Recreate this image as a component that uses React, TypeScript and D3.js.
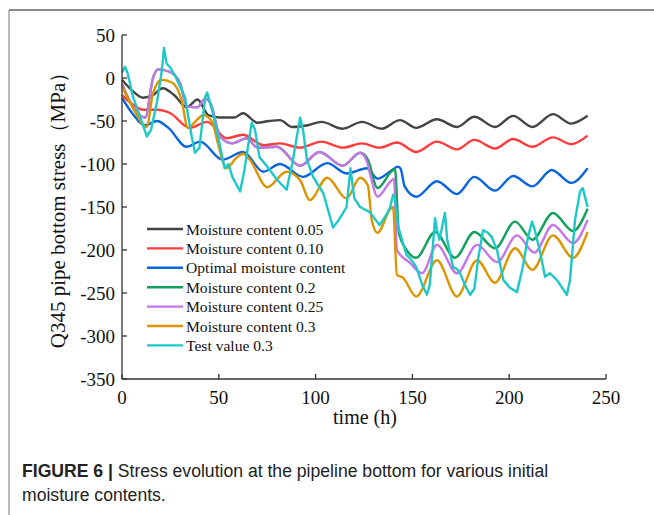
import React from "react";
import * as d3 from "d3";

const xTicks = [0, 50, 100, 150, 200, 250];
const yTicks = [50, 0, -50, -100, -150, -200, -250, -300, -350];

const seriesNames = [
  "Moisture content 0.05",
  "Moisture content 0.10",
  "Optimal moisture content",
  "Moisture content 0.2",
  "Moisture content 0.25",
  "Moisture content 0.3",
  "Test value 0.3",
];
const seriesColors = ["#444444", "#ff3b3b", "#0a64dc", "#12a05a", "#c676e8", "#dc9500", "#1ec8c8"];

const t005 = [0, 5, 11, 16, 21, 27, 33.5, 39, 44.5, 50.5, 58, 62.5, 70, 76, 81.6, 88, 96, 103, 114, 124, 134, 143.6, 152, 162.7, 173, 182, 192.7, 202, 212, 222.6, 232, 240.5];
const v005 = [-2, -14, -23, -20, -12, -20, -34, -25, -43, -46, -46, -41, -52, -50, -49, -57, -55, -51, -59, -51, -59, -49, -58, -48, -57, -45, -57, -44, -57, -42, -53, -44];

const t010 = [0, 5, 11, 18, 25, 35, 44, 54, 62.5, 73, 81.6, 92, 103, 114, 124, 133, 142, 152, 162.7, 173, 182, 192.7, 202, 212, 222.6, 232, 240.5];
const v010 = [-20, -30, -37, -37, -41, -58, -51, -70, -66, -78, -76, -81, -74, -81, -76, -81, -75, -86, -74, -83, -72, -82, -71, -80, -69, -77, -67];

const tOpt = [0, 5, 12, 18, 24, 33.4, 40.3, 52, 62.5, 73, 81.6, 93.5, 106, 116, 126.5, 132, 139.5, 142.6, 144, 146, 152, 162.7, 173, 182, 192.7, 202, 212, 222, 232, 240.5];
const vOpt = [-23, -40, -55, -50, -58, -80, -74, -95, -86, -109, -100, -115, -99, -111, -105, -117, -107, -103, -106, -126, -138, -120, -135, -115, -131, -114, -126, -107, -122, -105];

const t02 = [0, 5.7, 12, 16, 18.7, 24.8, 30, 33.5, 39, 43, 46, 50.6, 57, 64.5, 70, 80, 92, 102, 114, 123, 127, 132, 139.5, 141, 143, 147, 152, 161.7, 172, 182, 192.7, 203, 212, 222.6, 233, 240.5];
const v02 = [-7, -34, -46, 0, 10, 7, -6, -33, -34, -24, -31, -68, -76, -70, -81, -80, -102, -86, -102, -87, -95, -128, -108, -106, -180, -200, -209, -179, -209, -179, -198, -167, -188, -157, -178, -152];

const t025 = [0, 5.7, 12, 16, 18.7, 24.8, 30, 33.5, 39, 43, 46, 50.6, 57, 64.5, 70, 80, 92, 102, 114, 123, 126.5, 128, 132, 138.4, 140.5, 142, 148.8, 155, 162.7, 173, 183.4, 193.7, 204, 213, 222.6, 233, 240.5];
const v025 = [-7, -34, -46, 0, 10, 7, -6, -33, -34, -24, -31, -68, -76, -70, -81, -80, -102, -86, -102, -87, -97, -110, -138, -121, -117, -200, -215, -227, -194, -227, -194, -214, -183, -203, -171, -192, -165];

const t03 = [0, 5.7, 12.7, 16, 20.5, 26.4, 30.8, 34, 38.6, 42, 46.3, 50, 52.5, 54, 59, 62.5, 66, 75, 85, 92, 97, 106, 116, 123, 127, 129, 132, 138.4, 140, 142, 145, 152, 162.7, 173, 183.4, 192.7, 203, 212, 222.6, 233, 240.5];
const v03 = [-10, -35, -57, -18, -2, -6, -26, -58, -49, -43, -50, -80, -100, -105, -93, -88, -95, -127, -109, -119, -142, -116, -140, -116, -125, -165, -180, -153, -150, -229, -232, -254, -212, -254, -212, -238, -198, -223, -183, -209, -179];

const tTest = [0, 1.5, 3, 5.7, 9.3, 12.9, 15, 18, 20.6, 21.7, 23, 25, 28, 30, 32.5, 36, 37.7, 40, 43, 44, 46.5, 49.6, 53, 55, 57, 61, 63, 67, 68.7, 71, 75, 80, 85, 88, 92, 93.5, 95.5, 98.7, 104, 109, 112, 116, 118, 120, 123, 128, 133, 136, 138.4, 140, 141, 142.7, 144.6, 147, 149, 152, 155, 157.5, 159, 161.7, 162.7, 164, 166.8, 168, 171, 173, 174.6, 177, 179.8, 182, 184, 186.5, 189, 191, 193.7, 197, 200.4, 204, 207, 209.7, 211.8, 213, 216, 218.5, 221, 224.7, 229.8, 231.4, 234, 236.6, 238, 240.5];
const vTest = [6, 13, 5, -22, -45, -68, -60, -29, 9, 35, 17, 12, 0, -10, -22, -68, -87, -81, -22, -17, -37, -68, -105, -100, -115, -132, -110, -52, -60, -92, -103, -118, -130, -99, -46, -60, -95, -115, -134, -174, -165, -150, -105, -140, -150, -156, -171, -161, -151, -136, -140, -173, -188, -206, -210, -220, -240, -252, -240, -163, -177, -188, -157, -188, -220, -222, -227, -240, -252, -245, -210, -177, -180, -185, -200, -235, -244, -249, -220, -185, -167, -175, -203, -231, -227, -235, -252, -235, -165, -132, -128, -150];

const seriesT = [t005, t010, tOpt, t02, t025, t03, tTest];
const seriesV = [v005, v010, vOpt, v02, v025, v03, vTest];

const W = 654;
const H = 515;
const X0 = 122;
const X1 = 606;
const Y0 = 379;
const Y1 = 35;

export default function App() {
  const x = d3.scaleLinear().domain([0, 250]).range([X0, X1]);
  const y = d3.scaleLinear().domain([-350, 50]).range([Y0, Y1]);

  const paths = seriesT.map((ts, i) => {
    const pts: [number, number][] = ts.map((t, j) => [t, seriesV[i][j]]);
    const line = d3
      .line<[number, number]>()
      .x((d) => x(d[0]))
      .y((d) => y(d[1]))
      .curve(i === 6 ? d3.curveLinear : d3.curveMonotoneX);
    return line(pts) || "";
  });

  const serif = "'Liberation Serif', 'Times New Roman', serif";
  const legendX = 147;
  const legendY0 = 229;
  const legendDy = 19.4;

  return (
    <svg
      width={W}
      height={H}
      style={{ position: "absolute", left: 0, top: 0, background: "#fff" }}
    >
      <rect x={0} y={0} width={W} height={H} fill="#fff" />
      {/* frame */}
      <line x1={9} y1={10} x2={W} y2={10} stroke="#8c8c8c" strokeWidth={2} />
      <line x1={9} y1={10} x2={9} y2={H} stroke="#8c8c8c" strokeWidth={1.2} />

      {/* series */}
      {paths.map((d, i) => (
        <path key={i} d={d} fill="none" stroke={seriesColors[i]} strokeWidth={2.4} strokeLinejoin="round" />
      ))}

      {/* axes */}
      <line x1={X0} y1={Y1} x2={X0} y2={Y0} stroke="#333" strokeWidth={1.3} />
      <line x1={X0} y1={Y0} x2={X1} y2={Y0} stroke="#333" strokeWidth={1.3} />
      {yTicks.map((v) => (
        <g key={"y" + v}>
          <line x1={X0} x2={X0 + 5} y1={y(v)} y2={y(v)} stroke="#333" strokeWidth={1.3} />
          <text
            x={X0 - 7}
            y={y(v)}
            textAnchor="end"
            dominantBaseline="central"
            fontFamily={serif}
            fontSize={19}
            fill="#111"
          >
            {v}
          </text>
        </g>
      ))}
      {xTicks.map((v) => (
        <g key={"x" + v}>
          <line x1={x(v)} x2={x(v)} y1={Y0} y2={Y0 - 5} stroke="#333" strokeWidth={1.3} />
          <text
            x={x(v)}
            y={Y0 + 18}
            textAnchor="middle"
            dominantBaseline="central"
            fontFamily={serif}
            fontSize={19}
            fill="#111"
          >
            {v}
          </text>
        </g>
      ))}
      <text
        x={365}
        y={417}
        textAnchor="middle"
        dominantBaseline="central"
        fontFamily={serif}
        fontSize={20}
        fill="#111"
      >
        time (h)
      </text>
      <text
        transform={`translate(58,205) rotate(-90)`}
        textAnchor="middle"
        dominantBaseline="central"
        fontFamily={serif}
        fontSize={21}
        fill="#111"
      >
        Q345 pipe bottom stress（MPa）
      </text>

      {/* legend */}
      {seriesNames.map((n, i) => (
        <g key={"l" + i}>
          <line
            x1={legendX}
            x2={legendX + 36}
            y1={legendY0 + i * legendDy}
            y2={legendY0 + i * legendDy}
            stroke={seriesColors[i]}
            strokeWidth={2.4}
          />
          <text
            x={legendX + 39}
            y={legendY0 + i * legendDy}
            dominantBaseline="central"
            fontFamily={serif}
            fontSize={15.6}
            fill="#111"
          >
            {n}
          </text>
        </g>
      ))}

      {/* caption */}
      <text x={22} y={477} fontFamily="'Liberation Sans', Arial, sans-serif" fontSize={17.6} fill="#222">
        <tspan fontWeight="bold">FIGURE 6 |</tspan>
        <tspan> Stress evolution at the pipeline bottom for various initial</tspan>
      </text>
      <text x={22} y={501} fontFamily="'Liberation Sans', Arial, sans-serif" fontSize={17.6} fill="#222">
        moisture contents.
      </text>
    </svg>
  );
}
